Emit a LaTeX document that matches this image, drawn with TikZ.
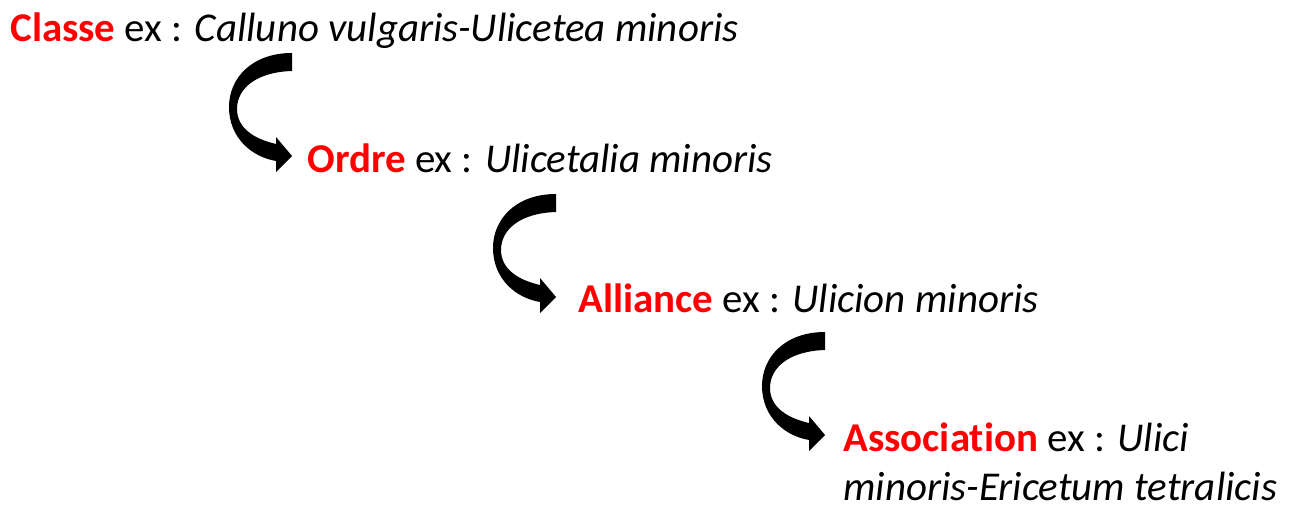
\documentclass[tikz,border=0pt]{standalone}
\usepackage{fontspec}
\setmainfont[Ligatures={NoCommon}]{Carlito}
\usepackage{xcolor}
\usetikzlibrary{positioning,calc}

\begin{document}
\begin{tikzpicture}[
        x=0.02cm, y=-0.02cm,
        rank/.style={anchor=base west, inner sep=0pt, align=left, font=\fontsize{23.3}{27.8}\selectfont},
        pics/turn/.style={code={
            \fill[black] (0,0) .. controls (-40,0) and (-63,25) .. (-63,54)
                .. controls (-63,85) and (-40,104) .. (-16,108)
                -- (-16,119) -- (0,103) -- (-16,84) -- (-16,91)
                .. controls (-38,86) and (-55,75) .. (-55,56)
                .. controls (-55,35) and (-35,19) .. (0,18) -- cycle;
        }}
    ]
    \useasboundingbox (0,0) rectangle (1293,509);

    % rangs
    \node[rank] (classe) at (10,42) {\textcolor{red}{\textbf{Classe}} ex : \textit{Calluno vulgaris-Ulicetea minoris}};
    \node[rank] (ordre) at (307,173) {\textcolor{red}{\textbf{Ordre}} ex : \textit{Ulicetalia minoris}};
    \node[rank] (alliance) at (578,313) {\textcolor{red}{\textbf{Alliance}} ex : \textit{Ulicion minoris}};
    \node[rank] (assoc) at (843,500) {\textcolor{red}{\textbf{Association}} ex : \textit{Ulici}\\\textit{minoris-Ericetum tetralicis}};

    % fleches courbes
    \pic at ($(ordre.base west)+(-15,-120)$) {turn};
    \pic at ($(alliance.base west)+(-22,-119)$) {turn};
    \pic at ($(assoc.base west)+(-18,-168)$) {turn};

\end{tikzpicture}
\end{document}
